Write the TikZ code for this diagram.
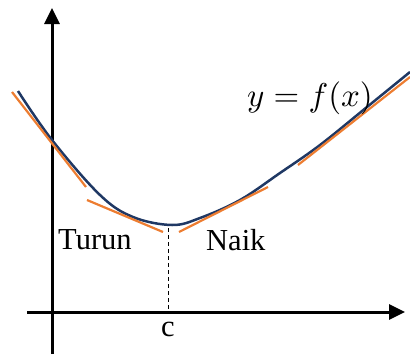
\documentclass[tikz,border=0pt]{standalone}
\usepackage{graphicx}
\usepackage{fontspec}
\setmainfont{Liberation Serif}
\usetikzlibrary{arrows.meta}
\definecolor{curveblue}{HTML}{1F3864}
\definecolor{tanorange}{HTML}{ED7D31}
\tikzset{
  axis/.style={line width=3pt, -{Triangle[length=16pt,width=15pt]}},
  curveline/.style={curveblue, line width=2.5pt},
  tangent/.style={tanorange, line width=2.2pt},
  guide/.style={line width=1pt, dash pattern=on 4pt off 3pt},
  lbl/.style={font=\fontsize{30.5}{36}\selectfont, inner sep=0pt},
}
\begin{document}
\begin{tikzpicture}[x=1pt,y=-1pt]
\useasboundingbox (0,0) rectangle (410,354);
% axes
\coordinate (yb) at (52,354);
\coordinate (yt) at (52,8);
\coordinate (xl) at (27,312);
\coordinate (xr) at (405,312);
\draw[axis] (yb) -- (yt);
\draw[axis] (xl) -- (xr);
% curve
\draw[curveline] plot[smooth, tension=0.6] coordinates {(18,91) (52,140) (100,195) (133,217) (172,225) (200,218) (240,200) (280,173) (320,145) (367,107) (410,72)};
% tangents
\coordinate (t1a) at (12,92);  \coordinate (t1b) at (86,187);
\coordinate (t2a) at (87,200); \coordinate (t2b) at (163,232);
\coordinate (t3a) at (179,232); \coordinate (t3b) at (268,187);
\coordinate (t4a) at (298,165); \coordinate (t4b) at (410,77);
\draw[tangent] (t1a) -- (t1b);
\draw[tangent] (t2a) -- (t2b);
\draw[tangent] (t3a) -- (t3b);
\draw[tangent] (t4a) -- (t4b);
% dashed guide
\coordinate (cmin) at (168,228);
\coordinate (cax) at (168,312);
\draw[guide] (cmin) -- (cax);
% labels
\node[lbl, anchor=base west] (turun) at (58,249) {Turun};
\node[lbl, anchor=base west] (naik) at (206,250) {Naik};
\node[lbl, anchor=base] (c) at (168,336) {c};
\node[inner sep=0pt, anchor=base west, font=\normalsize] (fx) at (247,106) {\scalebox{3.3}{$y=f(x)$}};
\end{tikzpicture}
\end{document}
